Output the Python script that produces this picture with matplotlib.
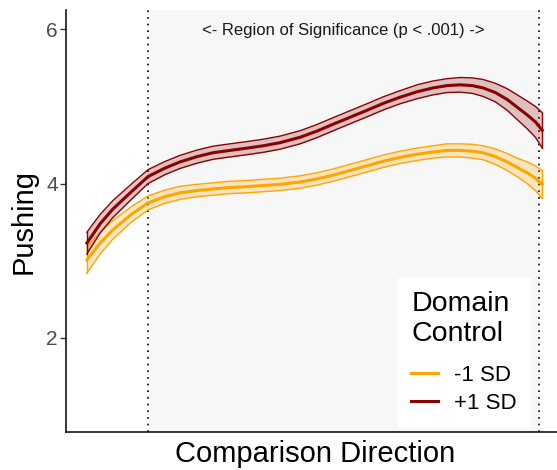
import matplotlib.pyplot as plt

plt.rcParams['font.family'] = ['Liberation Sans', 'DejaVu Sans']

# comparison direction (rescaled 0-1) and fitted pushing values with half-width of the CI
direction = [0.0, 0.029, 0.057, 0.095, 0.134, 0.171, 0.204, 0.242, 0.277, 0.314,
             0.352, 0.387, 0.424, 0.468, 0.505, 0.541, 0.578, 0.615, 0.651, 0.688,
             0.725, 0.760, 0.791, 0.820, 0.846, 0.870, 0.897, 0.923, 0.945, 0.967,
             0.985, 1.0]
low_fit = [3.01, 3.23, 3.40, 3.59, 3.75, 3.83, 3.88, 3.91, 3.93, 3.95,
           3.96, 3.975, 3.99, 4.02, 4.06, 4.11, 4.17, 4.23, 4.29, 4.34,
           4.38, 4.41, 4.43, 4.43, 4.42, 4.40, 4.35, 4.28, 4.21, 4.14,
           4.07, 3.99]
low_ci = [0.17, 0.14, 0.12, 0.10, 0.09, 0.085, 0.085, 0.08, 0.08, 0.08,
          0.08, 0.08, 0.08, 0.08, 0.08, 0.08, 0.08, 0.08, 0.08, 0.08,
          0.08, 0.08, 0.085, 0.085, 0.09, 0.09, 0.10, 0.11, 0.12, 0.14,
          0.16, 0.18]
high_fit = [3.23, 3.48, 3.67, 3.88, 4.09, 4.20, 4.28, 4.35, 4.40, 4.43,
            4.46, 4.49, 4.53, 4.60, 4.68, 4.77, 4.86, 4.95, 5.04, 5.12,
            5.19, 5.24, 5.27, 5.28, 5.27, 5.24, 5.18, 5.09, 4.99, 4.89,
            4.80, 4.69]
high_ci = [0.14, 0.12, 0.11, 0.10, 0.09, 0.085, 0.085, 0.085, 0.085, 0.085,
           0.085, 0.085, 0.085, 0.085, 0.085, 0.085, 0.085, 0.085, 0.085, 0.085,
           0.09, 0.09, 0.09, 0.095, 0.10, 0.11, 0.12, 0.14, 0.16, 0.18,
           0.20, 0.23]
groups = ['-1 SD', '+1 SD']
colors = ['#FFA500', '#8B0000']
sig_bounds = [0.134, 0.993]

fig = plt.figure(figsize=(5.57, 4.70), dpi=100)
ax = fig.add_axes([66 / 557, 38 / 470, 499 / 557, 422 / 470])

# region of significance
ax.axvspan(sig_bounds[0], sig_bounds[1], color='#F7F7F7', zorder=0, lw=0)
for b in sig_bounds:
    ax.axvline(b, color='black', ls=(0, (1, 3)), lw=1.2, zorder=1)
ax.text(sum(sig_bounds) / 2, 5.99, '<- Region of Significance (p < .001) ->',
        ha='center', va='center', fontsize=12, color='#1A1A1A')

for fit, ci, col, lab in [(low_fit, low_ci, colors[0], groups[0]),
                          (high_fit, high_ci, colors[1], groups[1])]:
    lo = [f - c for f, c in zip(fit, ci)]
    hi = [f + c for f, c in zip(fit, ci)]
    ax.fill_between(direction, lo, hi, color=col, alpha=0.22, lw=0, zorder=2)
    ax.plot(direction, lo, color=col, lw=1.0, zorder=3)
    ax.plot(direction, hi, color=col, lw=1.0, zorder=3)
    ax.plot([direction[0]] * 2, [lo[0], hi[0]], color=col, lw=1.0, zorder=3)
    ax.plot([direction[-1]] * 2, [lo[-1], hi[-1]], color=col, lw=1.0, zorder=3)
    ax.plot(direction, fit, color=col, lw=2.2, zorder=4, label=lab,
            solid_joinstyle='round')

ax.set_xlim(-0.046, 1.05)
ax.set_ylim(0.78, 6.25)
ax.set_yticks([2, 4, 6])
ax.set_xticks([])
ax.tick_params(axis='y', labelsize=15, labelcolor='#4D4D4D', color='#333333',
               length=4, width=1, pad=2)
for s in ['top', 'right']:
    ax.spines[s].set_visible(False)
for s in ['left', 'bottom']:
    ax.spines[s].set_linewidth(1.1)
ax.set_ylabel('Pushing', fontsize=21, labelpad=6)
ax.set_xlabel('Comparison Direction', fontsize=21, labelpad=6)

leg = ax.legend(title='Domain\nControl', loc='lower right',
                bbox_to_anchor=(0.929, 0.012), borderaxespad=0,
                fontsize=16, title_fontsize=20.5, alignment='left',
                frameon=True, fancybox=False, handlelength=1.2,
                handletextpad=0.7, labelspacing=0.3, borderpad=0.6)
leg._legend_box.sep = 13
leg.get_frame().set_edgecolor('white')
leg.get_frame().set_facecolor('white')
leg.get_frame().set_alpha(1)

fig.savefig('out.png', dpi=100)
